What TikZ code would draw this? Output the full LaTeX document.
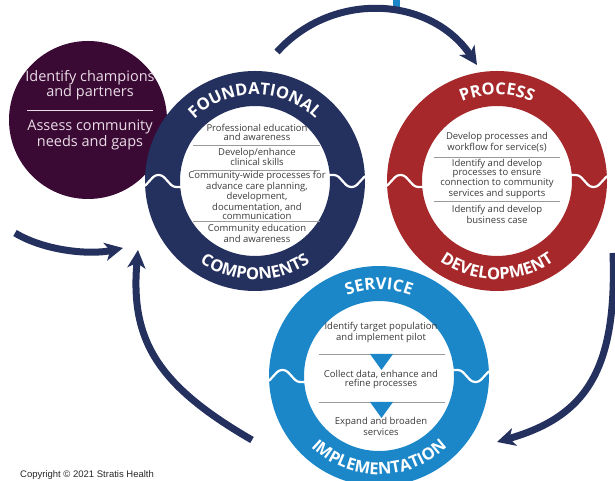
\documentclass[tikz,border=0pt]{standalone}
\usepackage{fontspec}
\usepackage{xcolor}
\usepackage{tikz}
\usetikzlibrary{arrows.meta,decorations.text}
\newfontfamily\osfont{Open Sans}
\newfontfamily\arialfont{Liberation Sans}
\definecolor{navyring}{HTML}{24305E}
\definecolor{redring}{HTML}{A6282A}
\definecolor{bluering}{HTML}{1B87C9}
\definecolor{plum}{HTML}{3A0A35}
\definecolor{plumtext}{HTML}{EADCE6}
\definecolor{bodytext}{HTML}{3A3A3A}
\definecolor{rulegray}{HTML}{9A9A9A}
\newcommand\lblfont{\osfont\bfseries\fontsize{16.5}{16.5}\selectfont\color{white}}

\begin{document}
\begin{tikzpicture}[x=1pt, y=1pt,
    ring/.style={circle, inner sep=0pt, minimum size=185pt, line width=35pt},
    wave/.style={white, line width=2.2pt, rounded corners=3pt},
    item/.style={font=\osfont\fontsize{9.5}{9.1}\selectfont, text=bodytext, align=center, inner sep=0pt},
    rule/.style={rulegray, line width=0.6pt},
    loop/.style={navyring, line width=7pt, -{Stealth[length=18pt, width=18pt, inset=5pt]}},
    toplabel/.style={decorate, decoration={text along path, text align=center, text={|\lblfont|#1}}},
    botlabel/.style={decorate, decoration={text along path, text align=center, text={|\lblfont|#1}}}]
	\useasboundingbox (0,0) rectangle (615,481);

	\fill[bluering] (393,471) rectangle (400,481);

	% stage 0
	\node[circle, fill=plum, minimum size=158pt, inner sep=0pt] (start) at (88,361) {};
	\node[font=\osfont\fontsize{14.5}{14}\selectfont, text=plumtext, align=center, inner sep=0pt] (champ) at (90,396) {Identify champions\\and partners};
	\draw[plumtext, line width=0.8pt] (27,371) -- (153,371);
	\node[font=\osfont\fontsize{14.5}{14}\selectfont, text=plumtext, align=center, inner sep=0pt] (needs) at (90,346) {Assess community\\needs and gaps};

	% rings
	\node[ring, draw=navyring] (found) at (255,300) {};
	\node[ring, draw=redring] (proc) at (497,300) {};
	\node[ring, draw=bluering] (serv) at (379,105) {};

	\foreach \c in {found, proc, serv} {
		\draw[wave, shift={(\c.center)}] (-117,-6) -- (-111,-6) -- (-100,6) -- (-93,6) -- (-82,-6) -- (-72,-6);
		\draw[wave, shift={(\c.center)}, rotate=180] (-117,-6) -- (-111,-6) -- (-100,6) -- (-93,6) -- (-82,-6) -- (-72,-6);
	}

	\path[toplabel=FOUNDATIONAL] ([shift={(180:86.5)}]found.center) arc[start angle=180, end angle=0, radius=86.5];
	\path[botlabel=COMPONENTS] ([shift={(180:98.5)}]found.center) arc[start angle=180, end angle=360, radius=98.5];
	\path[toplabel=PROCESS] ([shift={(180:86.5)}]proc.center) arc[start angle=180, end angle=0, radius=86.5];
	\path[botlabel=DEVELOPMENT] ([shift={(180:98.5)}]proc.center) arc[start angle=180, end angle=360, radius=98.5];
	\path[toplabel=SERVICE] ([shift={(180:86.5)}]serv.center) arc[start angle=180, end angle=0, radius=86.5];
	\path[botlabel=IMPLEMENTATION] ([shift={(180:98.5)}]serv.center) arc[start angle=180, end angle=360, radius=98.5];

	% foundational components
	\node[item] (f1) at (257,348.5) {Professional education\\and awareness};
	\draw[rule] (193,336) -- (320,336);
	\node[item] (f2) at (257,324) {Develop/enhance\\clinical skills};
	\draw[rule] (193,311) -- (320,311);
	\node[item] (f3) at (257,285.5) {Community-wide processes for\\advance care planning,\\development,\\documentation, and\\communication};
	\draw[rule] (193,260) -- (320,260);
	\node[item] (f4) at (257,247.5) {Community education\\and awareness};

	% process development
	\node[item] (p1) at (497,339) {Develop processes and\\workflow for service(s)};
	\draw[rule] (434,324) -- (560,324);
	\node[item] (p2) at (497,302) {Identify and develop\\processes to ensure\\connection to community\\services and supports};
	\draw[rule] (434,280) -- (560,280);
	\node[item] (p3) at (497,266.5) {Identify and develop\\business case};

	% service implementation
	\node[item] (s1) at (381,148.5) {Identify target population\\and implement pilot};
	\draw[rule] (319,127) -- (445,127);
	\fill[bluering] (370,127) -- (393,127) -- (381.5,111) -- cycle;
	\node[item] (s2) at (381,101.5) {Collect data, enhance and\\refine processes};
	\draw[rule] (319,79) -- (445,79);
	\fill[bluering] (370,79) -- (393,79) -- (381.5,63) -- cycle;
	\node[item] (s3) at (381,54.5) {Expand and broaden\\services};

	% cycle arrows
	\coordinate (ta) at (277,429);
	\coordinate (tb) at (477,416);
	\coordinate (ra) at (613,228);
	\coordinate (rb) at (497,39);
	\coordinate (la) at (15,248);
	\coordinate (lb) at (123,233);
	\coordinate (ma) at (252,41);
	\coordinate (mb) at (138,231);
	\draw[loop] (ta) .. controls +(48:83) and +(124:83) .. (tb);
	\draw[loop] (ra) .. controls +(-88:118) and +(16:92) .. (rb);
	\draw[loop] (la) .. controls +(-31:35) and +(192:34) .. (lb);
	\draw[loop] (ma) .. controls +(150:110) and +(-95:90) .. (mb);

	\node[font=\arialfont\fontsize{9.5}{11}\selectfont, text=black!85, anchor=west, inner sep=0pt] (copy) at (20,6) {Copyright © 2021 Stratis Health};
\end{tikzpicture}
\end{document}
